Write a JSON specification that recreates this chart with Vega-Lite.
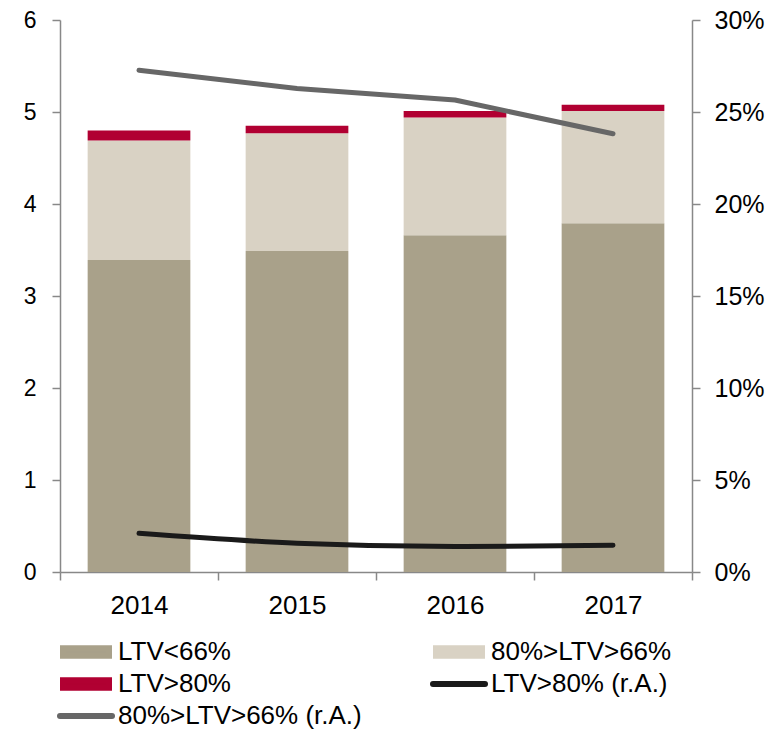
{
  "$schema": "https://vega.github.io/schema/vega-lite/v6.json",
  "width": 632,
  "height": 552,
  "autosize": {"type": "none"},
  "padding": {"left": 60, "top": 20, "right": 82, "bottom": 158},
  "config": {
    "view": {"stroke": null},
    "font": "Liberation Sans",
    "axis": {"grid": false, "labelFont": "Liberation Sans", "labelColor": "#000000", "domainColor": "#888888", "tickColor": "#888888", "domainWidth": 1.5, "tickWidth": 1.5, "tickSize": 8, "title": null}
  },
  "datasets": {
    "bars": [
      {"year": "2014", "series": "LTV<66%", "value": 3.39},
      {"year": "2014", "series": "80%>LTV>66%", "value": 1.30},
      {"year": "2014", "series": "LTV>80%", "value": 0.11},
      {"year": "2015", "series": "LTV<66%", "value": 3.49},
      {"year": "2015", "series": "80%>LTV>66%", "value": 1.28},
      {"year": "2015", "series": "LTV>80%", "value": 0.08},
      {"year": "2016", "series": "LTV<66%", "value": 3.66},
      {"year": "2016", "series": "80%>LTV>66%", "value": 1.28},
      {"year": "2016", "series": "LTV>80%", "value": 0.07},
      {"year": "2017", "series": "LTV<66%", "value": 3.79},
      {"year": "2017", "series": "80%>LTV>66%", "value": 1.22},
      {"year": "2017", "series": "LTV>80%", "value": 0.07}
    ],
    "lines": [
      {"year": "2014", "series": "80%>LTV>66% (r.A.)", "share": 0.2727},
      {"year": "2015", "series": "80%>LTV>66% (r.A.)", "share": 0.2628},
      {"year": "2016", "series": "80%>LTV>66% (r.A.)", "share": 0.2565},
      {"year": "2017", "series": "80%>LTV>66% (r.A.)", "share": 0.2382},
      {"year": "2014", "series": "LTV>80% (r.A.)", "share": 0.0210},
      {"year": "2015", "series": "LTV>80% (r.A.)", "share": 0.0156},
      {"year": "2016", "series": "LTV>80% (r.A.)", "share": 0.0138},
      {"year": "2017", "series": "LTV>80% (r.A.)", "share": 0.0145}
    ]
  },
  "encoding": {
    "x": {
      "field": "year", "type": "nominal",
      "scale": {"paddingInner": 0, "paddingOuter": 0},
      "axis": {"labelAngle": 0, "labelFontSize": 26, "labelPadding": 12, "labelBaseline": "top", "tickBand": "extent"}
    }
  },
  "layer": [
    {
      "data": {"name": "bars"},
      "transform": [{"calculate": "indexof(['LTV<66%','80%>LTV>66%','LTV>80%'], datum.series)", "as": "rank"}],
      "mark": {"type": "bar", "width": {"band": 0.65}},
      "encoding": {
        "y": {
          "field": "value", "type": "quantitative", "stack": "zero",
          "scale": {"domain": [0, 6], "nice": false},
          "axis": {"orient": "left", "values": [0, 1, 2, 3, 4, 5, 6], "labelFontSize": 23, "labelPadding": 16}
        },
        "order": {"field": "rank", "type": "quantitative", "sort": "ascending"},
        "color": {
          "field": "series", "type": "nominal",
          "scale": {
            "domain": ["LTV<66%", "80%>LTV>66%", "LTV>80%", "LTV>80% (r.A.)", "80%>LTV>66% (r.A.)"],
            "range": ["#A9A18A", "#D9D2C4", "#B10032", "#1A1A1A", "#676767"]
          },
          "legend": {
            "title": null,
            "orient": "none",
            "direction": "horizontal",
            "legendX": -3,
            "legendY": 619,
            "columns": 2,
            "columnPadding": 68,
            "rowPadding": 6,
            "padding": 0,
            "clipHeight": 26,
            "symbolSize": 2704,
            "symbolStrokeWidth": 6,
            "symbolOffset": 0,
            "labelOffset": 3,
            "labelFont": "Liberation Sans",
            "labelFontSize": 26,
            "labelColor": "#000000",
            "labelLimit": 400,
            "encode": {
              "symbols": {
                "update": {
                  "shape": {"signal": "indexof(datum.value, 'r.A.') >= 0 ? 'stroke' : 'M-0.885,-0.144H0.885V0.144H-0.885Z'"},
                  "fill": {"scale": "color", "field": "value"},
                  "stroke": {"scale": "color", "field": "value"},
                  "strokeCap": {"value": "round"},
                  "strokeJoin": {"value": "miter"},
                  "opacity": {"value": 1},
                  "fillOpacity": {"value": 1},
                  "strokeOpacity": {"value": 1}
                }
              }
            }
          }
        }
      }
    },
    {
      "data": {"name": "lines"},
      "layer": [
        {
          "transform": [{"filter": "datum.series === '80%>LTV>66% (r.A.)'"}],
          "mark": {"type": "line", "strokeWidth": 5, "strokeCap": "round", "strokeJoin": "round"},
          "encoding": {
            "y": {
              "field": "share", "type": "quantitative",
              "scale": {"domain": [0, 0.3], "nice": false},
              "axis": {"orient": "right", "values": [0, 0.05, 0.1, 0.15, 0.2, 0.25, 0.3], "format": ".0%", "labelFontSize": 25, "labelPadding": 14}
            },
            "color": {
              "field": "series", "type": "nominal",
              "scale": {
                "domain": ["LTV<66%", "80%>LTV>66%", "LTV>80%", "LTV>80% (r.A.)", "80%>LTV>66% (r.A.)"],
                "range": ["#A9A18A", "#D9D2C4", "#B10032", "#1A1A1A", "#676767"]
              }
            }
          }
        },
        {
          "transform": [{"filter": "datum.series === 'LTV>80% (r.A.)'"}],
          "mark": {"type": "line", "strokeWidth": 5, "strokeCap": "round", "interpolate": "monotone"},
          "encoding": {
            "y": {"field": "share", "type": "quantitative"},
            "color": {
              "field": "series", "type": "nominal",
              "scale": {
                "domain": ["LTV<66%", "80%>LTV>66%", "LTV>80%", "LTV>80% (r.A.)", "80%>LTV>66% (r.A.)"],
                "range": ["#A9A18A", "#D9D2C4", "#B10032", "#1A1A1A", "#676767"]
              }
            }
          }
        }
      ]
    }
  ],
  "resolve": {"scale": {"y": "independent"}}
}
